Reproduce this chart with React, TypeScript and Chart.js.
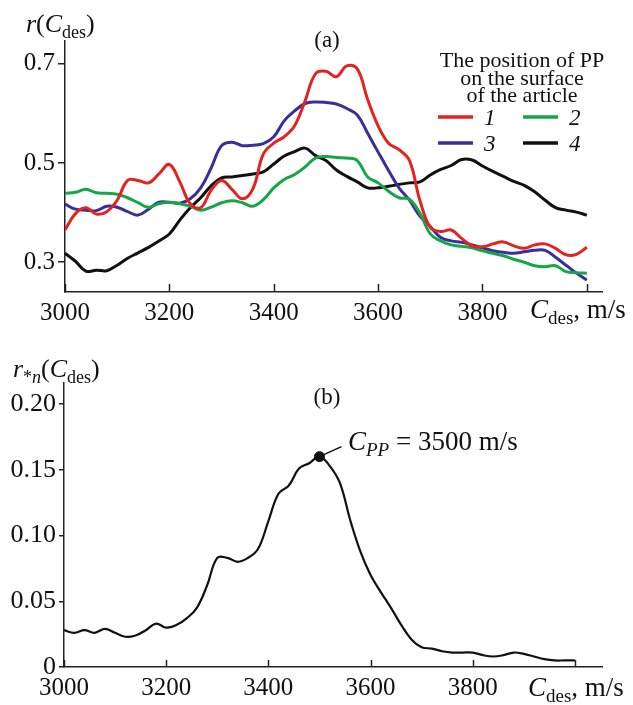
import React, { useEffect, useRef } from 'react';
import { Chart, registerables } from 'chart.js';
Chart.register(...registerables);

// ---------- DATA ----------
const cdesA = [3000,3020,3040,3060,3080,3100,3120,3140,3160,3180,3200,3220,3240,3260,3280,3300,3320,3340,3360,3380,3400,3420,3440,3460,3480,3500,3520,3540,3560,3580,3600,3620,3640,3660,3680,3700,3720,3740,3760,3780,3800,3820,3840,3860,3880,3900,3920,3940,3960,3980,4000];
const series1 = [0.365,0.398,0.41,0.397,0.402,0.425,0.465,0.465,0.46,0.478,0.497,0.462,0.418,0.41,0.445,0.465,0.447,0.428,0.448,0.518,0.54,0.553,0.575,0.625,0.68,0.685,0.674,0.696,0.69,0.628,0.575,0.54,0.527,0.505,0.425,0.37,0.362,0.365,0.348,0.333,0.331,0.337,0.341,0.333,0.328,0.335,0.337,0.328,0.315,0.316,0.33];
const series2 = [0.439,0.441,0.447,0.44,0.439,0.437,0.43,0.42,0.411,0.418,0.421,0.418,0.413,0.405,0.411,0.42,0.424,0.42,0.413,0.426,0.45,0.467,0.477,0.492,0.51,0.513,0.511,0.51,0.505,0.472,0.46,0.443,0.43,0.427,0.399,0.357,0.343,0.335,0.332,0.329,0.323,0.318,0.313,0.306,0.3,0.293,0.291,0.293,0.281,0.279,0.278];
const series3 = [0.417,0.407,0.405,0.404,0.413,0.411,0.402,0.395,0.407,0.421,0.421,0.419,0.428,0.45,0.49,0.535,0.542,0.535,0.536,0.539,0.553,0.585,0.605,0.62,0.623,0.622,0.619,0.61,0.597,0.56,0.522,0.485,0.45,0.425,0.393,0.372,0.35,0.343,0.34,0.335,0.329,0.323,0.32,0.318,0.321,0.324,0.324,0.31,0.294,0.278,0.264];
const series4 = [0.318,0.302,0.282,0.284,0.283,0.294,0.308,0.319,0.33,0.343,0.357,0.385,0.41,0.43,0.454,0.47,0.472,0.475,0.478,0.482,0.498,0.514,0.523,0.53,0.515,0.505,0.486,0.473,0.462,0.45,0.45,0.453,0.457,0.46,0.462,0.476,0.487,0.495,0.507,0.506,0.494,0.483,0.473,0.463,0.455,0.442,0.425,0.41,0.405,0.401,0.395];
const seriesNames = ['1', '2', '3', '4'];
const seriesColors = ['#e3231f', '#17a647', '#3b2d9c', '#111111'];

const cdesB = [3000,3020,3040,3060,3080,3100,3120,3140,3160,3180,3200,3220,3240,3260,3280,3300,3320,3340,3360,3380,3400,3420,3440,3460,3480,3500,3520,3540,3560,3580,3600,3620,3640,3660,3680,3700,3720,3740,3760,3780,3800,3820,3840,3860,3880,3900,3920,3940,3960,3980,4000];
const rStarN = [0.028,0.026,0.028,0.026,0.029,0.026,0.023,0.024,0.028,0.033,0.030,0.032,0.037,0.045,0.062,0.083,0.083,0.080,0.083,0.090,0.111,0.132,0.138,0.151,0.155,0.160,0.153,0.140,0.112,0.088,0.070,0.057,0.045,0.032,0.021,0.015,0.014,0.012,0.011,0.011,0.011,0.009,0.008,0.009,0.011,0.010,0.008,0.006,0.005,0.005,0.005];
const peakX = 3500;
const peakY = 0.16;
const peakText = '= 3500 m/s';

const xTicks = [3000, 3200, 3400, 3600, 3800, 4000];
const yTicksA = [0.3, 0.5, 0.7];
const yTicksB = [0, 0.05, 0.1, 0.15, 0.2];
const legendTitle = ['The position of PP', 'on the surface', 'of the article'];

// ---------- HELPERS ----------
const SERIF = '"Liberation Serif", "Times New Roman", serif';
type Seg = { t: string; it?: boolean; sub?: boolean };

function drawRich(ctx: CanvasRenderingContext2D, segs: Seg[], x: number, y: number, size: number) {
  ctx.save();
  ctx.textAlign = 'left';
  ctx.textBaseline = 'alphabetic';
  ctx.fillStyle = '#111';
  let cx = x;
  for (const s of segs) {
    const sz = s.sub ? Math.round(size * 0.7) : size;
    ctx.font = `${s.it ? 'italic ' : ''}${sz}px ${SERIF}`;
    ctx.fillText(s.t, cx, s.sub ? y + size * 0.22 : y);
    cx += ctx.measureText(s.t).width;
  }
  ctx.restore();
}

function innerXTicks(chart: any, len: number) {
  const ctx = chart.ctx;
  const xs = chart.scales.x;
  const bottom = chart.chartArea.bottom;
  ctx.save();
  ctx.strokeStyle = '#222';
  ctx.lineWidth = 1.5;
  for (const v of xTicks) {
    const px = Math.round(xs.getPixelForValue(v)) + 0.5;
    ctx.beginPath();
    ctx.moveTo(px, bottom);
    ctx.lineTo(px, bottom - len);
    ctx.stroke();
  }
  ctx.restore();
}

function baseScales(xMax: number, yMin: number, yMax: number, yTicks: number[], yFmt: (v: number) => string, yTickLen: number, yWidth: number, yFont: number) {
  return {
    x: {
      type: 'linear',
      min: 3000,
      max: xMax,
      afterBuildTicks: (s: any) => { s.ticks = xTicks.map((v) => ({ value: v })); },
      afterFit: (s: any) => { s.height = 38; },
      grid: { display: false, drawTicks: false },
      border: { display: true, color: '#222', width: 1.5 },
      ticks: {
        autoSkip: false,
        maxRotation: 0,
        padding: 6,
        color: '#111',
        font: { family: SERIF, size: 25 },
        callback: (v: any) => (v === 4000 ? '' : String(v)),
      },
    },
    y: {
      type: 'linear',
      min: yMin,
      max: yMax,
      afterBuildTicks: (s: any) => { s.ticks = yTicks.map((v) => ({ value: v })); },
      afterFit: (s: any) => { s.width = yWidth; },
      grid: { display: true, drawOnChartArea: false, drawTicks: true, tickLength: yTickLen, color: '#222', lineWidth: 1.5 },
      border: { display: true, color: '#222', width: 1.5 },
      ticks: {
        autoSkip: false,
        padding: 3,
        color: '#111',
        font: { family: SERIF, size: yFont },
        callback: (v: any) => yFmt(Number(v)),
      },
    },
  };
}

// ---------- CHART A ----------
function ChartA() {
  const ref = useRef<HTMLCanvasElement>(null);
  useEffect(() => {
    const all = [series1, series2, series3, series4];
    const decor = {
      id: 'decorA',
      afterDraw(chart: any) {
        const ctx = chart.ctx;
        innerXTicks(chart, 8);
        ctx.save();
        ctx.fillStyle = '#111';
        ctx.font = `23px ${SERIF}`;
        ctx.textAlign = 'center';
        ctx.textBaseline = 'alphabetic';
        ctx.fillText('(a)', 327, 47);
        ctx.font = `22px ${SERIF}`;
        const bl = [67, 84.5, 102];
        legendTitle.forEach((t, i) => ctx.fillText(t, 522, bl[i]));
        // legend items
        chart.data.datasets.forEach((ds: any, i: number) => {
          const col = i % 2;
          const row = Math.floor(i / 2);
          const x0 = col === 0 ? 438 : 523;
          const y0 = row === 0 ? 117 : 143;
          ctx.strokeStyle = ds.borderColor;
          ctx.lineWidth = 3.5;
          ctx.beginPath();
          ctx.moveTo(x0, y0);
          ctx.lineTo(x0 + 35, y0);
          ctx.stroke();
          ctx.font = `italic 23px ${SERIF}`;
          ctx.textAlign = 'left';
          ctx.fillText(ds.label, x0 + 46, y0 + 8);
        });
        ctx.restore();
        drawRich(ctx, [{ t: 'r', it: true }, { t: '(' }, { t: 'C', it: true }, { t: 'des', sub: true }, { t: ')' }], 26, 32, 26);
        drawRich(ctx, [{ t: 'C', it: true }, { t: 'des', sub: true }, { t: ', m/s' }], 530, 318, 27);
      },
    };
    const chart = new Chart(ref.current as HTMLCanvasElement, {
      type: 'line',
      data: {
        datasets: all.map((s, i) => ({
          label: seriesNames[i],
          data: cdesA.map((x, j) => ({ x, y: s[j] })),
          borderColor: seriesColors[i],
          borderWidth: 3,
          pointRadius: 0,
          tension: 0.4,
          fill: false,
        })),
      },
      options: {
        responsive: false,
        animation: false,
        layout: { padding: { top: 41, right: 31, left: 0, bottom: 0 } },
        plugins: { legend: { display: false }, title: { display: false }, tooltip: { enabled: false } },
        scales: baseScales(4029, 0.24, 0.746, yTicksA, (v) => v.toFixed(1), 7, 65, 25) as any,
      },
      plugins: [decor],
    } as any);
    return () => chart.destroy();
  }, []);
  return <canvas ref={ref} width={633} height={330} style={{ position: 'absolute', left: 0, top: 0, width: 633, height: 330 }} />;
}

// ---------- CHART B ----------
function ChartB() {
  const ref = useRef<HTMLCanvasElement>(null);
  useEffect(() => {
    const decor = {
      id: 'decorB',
      afterDraw(chart: any) {
        const ctx = chart.ctx;
        innerXTicks(chart, 7);
        ctx.save();
        ctx.fillStyle = '#111';
        ctx.font = `23px ${SERIF}`;
        ctx.textAlign = 'center';
        ctx.textBaseline = 'alphabetic';
        ctx.fillText('(b)', 327, 69);
        // leader line
        const px = chart.scales.x.getPixelForValue(peakX);
        const py = chart.scales.y.getPixelForValue(peakY);
        ctx.strokeStyle = '#111';
        ctx.lineWidth = 1.5;
        ctx.beginPath();
        ctx.moveTo(px, py);
        ctx.lineTo(px + 22, py - 10);
        ctx.stroke();
        ctx.restore();
        drawRich(ctx, [{ t: 'C', it: true }, { t: 'PP', it: true, sub: true }, { t: ' ' + peakText }], 348, 115, 27);
        drawRich(ctx, [{ t: 'r', it: true }, { t: '*', sub: true }, { t: 'n', it: true, sub: true }, { t: '(' }, { t: 'C', it: true }, { t: 'des', sub: true }, { t: ')' }], 13, 42, 26);
        drawRich(ctx, [{ t: 'C', it: true }, { t: 'des', sub: true }, { t: ', m/s' }], 528, 361, 27);
      },
    };
    const chart = new Chart(ref.current as HTMLCanvasElement, {
      type: 'line',
      data: {
        datasets: [
          {
            label: 'r*n',
            data: cdesB.map((x, j) => ({ x, y: rStarN[j] })),
            borderColor: '#111',
            borderWidth: 2.2,
            pointRadius: 0,
            tension: 0.4,
            fill: false,
          },
          {
            label: 'CPP',
            data: [{ x: peakX, y: peakY }],
            showLine: false,
            pointRadius: 5,
            pointBackgroundColor: '#111',
            pointBorderColor: '#111',
            borderColor: '#111',
          },
        ],
      },
      options: {
        responsive: false,
        animation: false,
        layout: { padding: { top: 48, right: 31, left: 0, bottom: 0 } },
        plugins: { legend: { display: false }, title: { display: false }, tooltip: { enabled: false } },
        scales: baseScales(4053, 0, 0.216, yTicksB, (v) => (v === 0 ? '0' : v.toFixed(2)), 5, 64, 26) as any,
      },
      plugins: [decor],
    } as any);
    return () => chart.destroy();
  }, []);
  return <canvas ref={ref} width={633} height={370} style={{ position: 'absolute', left: 0, top: 335, width: 633, height: 370 }} />;
}

export default function App() {
  return (
    <div style={{ position: 'absolute', left: 0, top: 0, width: 633, height: 705, background: '#fff', overflow: 'hidden' }}>
      <ChartA />
      <ChartB />
    </div>
  );
}
